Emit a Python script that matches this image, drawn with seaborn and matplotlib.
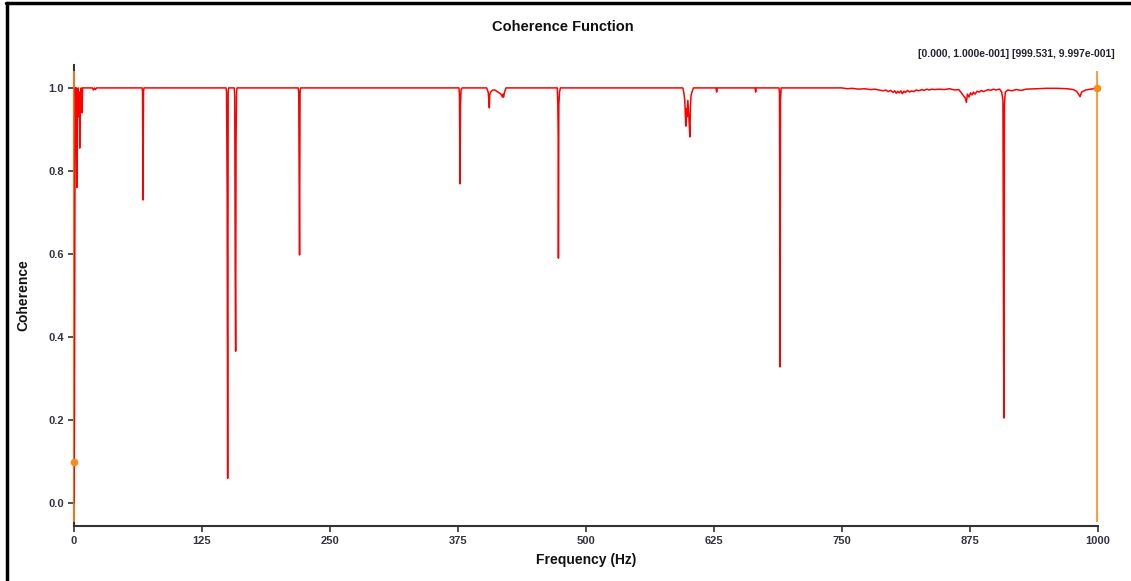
import matplotlib
matplotlib.use("Agg")
import matplotlib.pyplot as plt
from matplotlib.lines import Line2D
import seaborn as sns
import pandas as pd

# Coherence estimate between the two channels (Hz, coherence)
freq_hz = [
    0.0, 0.47, 0.94, 1.4, 1.9, 2.3, 2.8, 3.3, 3.8, 4.2, 4.7, 5.2, 5.6, 6.1, 6.6,
    7.0, 7.5, 8.0, 8.4, 10.0, 18.0, 19.0, 20.0, 21.0, 22.0,
    66.5, 67.0, 67.4, 67.9, 68.4,
    148.5, 149.0, 149.6, 150.1, 150.6, 151.1,
    156.5, 157.0, 157.5, 157.9, 158.3, 158.8, 159.3,
    219.0, 219.5, 219.8, 220.0, 220.3, 220.8, 221.3,
    376.0, 376.5, 377.0, 377.5, 378.0, 379.0,
    403.0, 404.5, 405.2, 405.6, 406.1, 407.0, 409.0, 411.0, 414.0, 417.0,
    418.5, 419.0, 419.5, 420.5, 422.0,
    472.0, 472.5, 472.9, 473.1, 473.5, 474.2, 475.0,
    594.5, 595.5, 596.5, 597.5, 598.0, 598.5, 599.5, 600.5, 601.5, 602.0,
    602.5, 603.5, 605.0,
    627.0, 627.6, 628.2,
    665.2, 665.7, 666.2,
    688.5, 689.0, 689.2, 689.4, 689.6, 690.0, 690.6,
    750.0, 755.0, 760.0, 766.0, 772.0, 778.0, 782.0, 786.0, 790.0, 793.0,
    795.0, 797.5, 800.0, 801.5, 803.0, 804.5, 806.0, 807.5, 809.0, 810.5,
    812.0, 814.0, 816.0, 818.0, 820.0, 822.5, 825.0, 828.0, 830.0, 833.0,
    835.0, 838.0, 840.0, 845.0, 850.0, 855.0, 860.0, 864.0, 866.0, 867.5,
    869.0, 870.5, 871.5, 872.5, 874.0, 875.5, 877.0, 878.5, 880.0, 882.0,
    884.0, 886.0, 888.0, 890.0, 893.0, 895.0, 898.0, 900.0, 904.0, 906.0,
    907.2, 907.9, 908.3, 908.7, 909.5, 912.0, 916.0, 920.0, 925.0, 930.0,
    940.0, 950.0, 960.0, 970.0, 976.0, 979.0, 981.0, 982.5, 984.0, 988.0,
    993.0, 999.531,
]
coherence = [
    0.00, 0.20, 0.76, 1.00, 0.96, 1.00, 0.76, 0.98, 0.95, 1.00, 0.93, 0.99, 0.855, 0.98, 0.94,
    1.00, 0.96, 0.94, 1.00, 1.00, 1.00, 0.995, 1.00, 0.996, 1.00,
    1.00, 0.99, 0.73, 0.99, 1.00,
    1.00, 0.99, 0.75, 0.06, 0.99, 1.00,
    1.00, 0.98, 0.54, 0.366, 0.867, 0.99, 1.00,
    1.00, 0.99, 0.82, 0.70, 0.598, 0.99, 1.00,
    1.00, 0.98, 0.769, 0.96, 0.995, 1.00,
    1.00, 0.99, 0.97, 0.952, 0.985, 0.99, 0.995, 0.995, 0.99, 0.985,
    0.978, 0.985, 0.978, 0.99, 1.00,
    1.00, 0.964, 0.88, 0.59, 0.96, 0.99, 1.00,
    1.00, 0.99, 0.97, 0.908, 0.95, 0.93, 0.97, 0.93, 0.882, 0.95,
    0.98, 0.99, 1.00,
    1.00, 0.99, 1.00,
    1.00, 0.99, 1.00,
    1.00, 0.99, 0.83, 0.602, 0.328, 0.97, 1.00,
    1.00, 0.998, 0.999, 0.997, 0.998, 0.996, 0.997, 0.995, 0.993, 0.995,
    0.991, 0.994, 0.989, 0.993, 0.987, 0.992, 0.988, 0.993, 0.986, 0.992,
    0.989, 0.994, 0.990, 0.993, 0.991, 0.995, 0.993, 0.996, 0.994, 0.997,
    0.995, 0.997, 0.996, 0.997, 0.996, 0.998, 0.995, 0.996, 0.99, 0.985,
    0.98, 0.975, 0.965, 0.985, 0.978, 0.988, 0.983, 0.99, 0.985, 0.992,
    0.99, 0.994, 0.991, 0.993, 0.996, 0.994, 0.997, 0.995, 0.997, 0.99,
    0.97, 0.345, 0.205, 0.96, 0.99, 0.995, 0.993, 0.996, 0.994, 0.997,
    0.998, 0.999, 0.999, 0.998, 0.996, 0.992, 0.985, 0.979, 0.99, 0.995,
    0.997, 0.9997,
]

x_ticks = [0, 125, 250, 375, 500, 625, 750, 875, 1000]
y_ticks = [0.0, 0.2, 0.4, 0.6, 0.8, 1.0]

# Cursor readouts (frequency, coherence)
cursor_freq = [0.0, 999.531]
cursor_value = [0.1, 0.9997]

sns.set_theme(style="white")
plt.rcParams["font.family"] = ["Liberation Sans", "DejaVu Sans"]

fig = plt.figure(figsize=(11.31, 5.81), dpi=100)
ax = fig.add_axes([0.0654, 0.0947, 0.9054, 0.7933])

df = pd.DataFrame({"Frequency (Hz)": freq_hz, "Coherence": coherence})
sns.lineplot(data=df, x="Frequency (Hz)", y="Coherence", ax=ax,
             color="#ff0000", linewidth=1.1, estimator=None, sort=False,
             zorder=4)

# Cursors
cursor_color = "#ff8a1c"
ax.vlines(cursor_freq, -0.045, 1.04, color=cursor_color, linewidth=1.2,
          zorder=3, clip_on=False)
ax.plot(cursor_freq, cursor_value, "o", color=cursor_color, markersize=4.5,
        zorder=5, clip_on=False)

ax.set_xlim(0, 1000)
ax.set_ylim(-0.055, 1.055)
ax.set_xticks(x_ticks)
ax.set_xticklabels([str(t) for t in x_ticks])
ax.set_yticks(y_ticks)
ax.set_yticklabels([f"{t:.1f}" for t in y_ticks])

for side in ("top", "right"):
    ax.spines[side].set_visible(False)
for side in ("left", "bottom"):
    ax.spines[side].set_color("#333333")
    ax.spines[side].set_linewidth(1.5)
    ax.spines[side].set_zorder(2)

ax.tick_params(axis="both", which="major", direction="out", length=4, width=1.2,
               color="#333333", labelsize=8, labelcolor="#333344", pad=3,
               bottom=True, left=True)
for lab in ax.get_xticklabels() + ax.get_yticklabels():
    lab.set_fontweight("bold")

ax.set_xlabel("Frequency (Hz)", fontsize=10, fontweight="bold", color="#111111",
              labelpad=5)
ax.set_ylabel("Coherence", fontsize=10, fontweight="bold", color="#111111",
              labelpad=13)
ax.grid(False)

fig.text(0.498, 0.953, "Coherence Function", ha="center", va="center",
         fontsize=10.5, fontweight="bold", color="#111111")
fig.text(0.986, 0.907, "[0.000, 1.000e-001] [999.531, 9.997e-001]",
         ha="right", va="center", fontsize=7.5, fontweight="bold", color="#222233")

# Window frame on the top and left edges
fig.add_artist(Line2D([0.005, 1.0], [0.995, 0.995], color="black", linewidth=2.5,
                      transform=fig.transFigure))
fig.add_artist(Line2D([0.0062, 0.0062], [0.0, 0.995], color="black", linewidth=2.5,
                      transform=fig.transFigure))

fig.savefig("out.png", dpi=100, facecolor="white")
